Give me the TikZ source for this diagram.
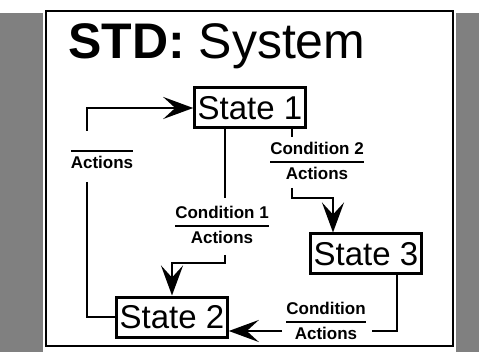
\documentclass[tikz,border=0pt]{standalone}
\usepackage{fontspec}
\setmainfont{Liberation Sans}
\usetikzlibrary{positioning}
\usetikzlibrary{arrows.meta}
\tikzset{
	state/.style={draw, line width=3pt, inner xsep=3pt, minimum height=40pt, font=\fontsize{33}{36}\selectfont},
	trans/.style={inner sep=0pt, font=\fontsize{17}{20}\selectfont\bfseries},
	conn/.style={line width=2.8pt},
	arr/.style={conn, -{Stealth[length=30pt,width=22pt,inset=12pt]}},
	shade/.style={fill=black!50}
}
\newcommand{\cond}[2]{\renewcommand{\arraystretch}{1.2}\setlength{\arrayrulewidth}{1.5pt}\begin{tabular}{@{}c@{}}#1\\\hline #2\end{tabular}}
\newcommand{\nocond}[1]{\renewcommand{\arraystretch}{1.2}\setlength{\arrayrulewidth}{1.5pt}\begin{tabular}{@{}c@{}}\hline #1\end{tabular}}

\begin{document}
\begin{tikzpicture}[x=1pt, y=-1pt]
					\useasboundingbox (0,0) rectangle (479,355);
					%Frame
					\fill[shade] (0,13) rectangle (43,352);
					\fill[shade] (456,13) rectangle (479,352);
					\draw[line width=2.4pt] (46,11) rectangle (453,346);

					%Nodes
					\node[anchor=base west, inner sep=0pt, font=\fontsize{50}{55}\selectfont] (title) at (68,59) {\textbf{STD:} System};
					\node[state] (s1) at (250,108) {State 1};
					\node[state] (s2) at (172,317) {State 2};
					\node[state] (s3) at (366,254) {State 3};

					\node[trans] (act) at (102,163) {\nocond{Actions}};
					\node[trans] (c1) at (222,226) {\cond{Condition 1}{Actions}};
					\node[trans] (c2) at (317,162) {\cond{Condition 2}{Actions}};
					\node[trans] (c3) at (326,322) {\cond{Condition}{Actions}};

					\coordinate      (a) 	at 	(87,131);
					\coordinate      (b) 	at 	(87,182);
					\coordinate      (c) 	at 	(225,198);
					\coordinate      (d) 	at 	(225,255);
					\coordinate      (e) 	at 	(292,137);
					\coordinate      (f) 	at 	(292,188);
					\coordinate      (g) 	at 	(372,331);
					\coordinate      (h) 	at 	(282,331);

					%Lines
					\draw[arr] (a) |- (s1.west);
					\draw[conn] (b) |- (s2.west);
					\draw[conn] (s1.south -| c) -- (c);
					\draw[arr] (d) -- ++(0,8) -| (s2.north);
					\draw[conn] (s1.south -| e) -- (e);
					\draw[arr] (f) -- ++(0,10) -| ([xshift=-33pt]s3.north);
					\draw[conn] ([xshift=31pt]s3.south) |- (g);
					\draw[arr] (h) -- (h -| s2.east);
				\end{tikzpicture}
\end{document}
